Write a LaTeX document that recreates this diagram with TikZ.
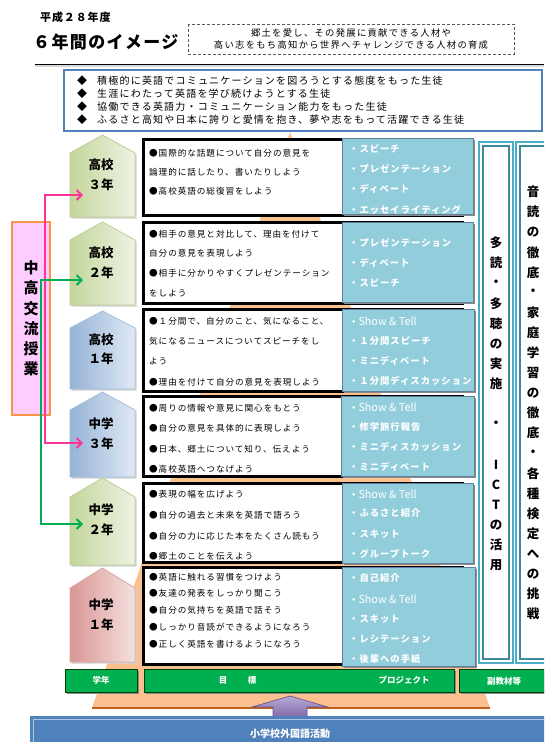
\documentclass[tikz,border=0pt]{standalone}
\usepackage{fontspec}
\setmainfont{Noto Sans CJK JP}
\newfontfamily\jpgoal[LetterSpace=11]{Noto Sans CJK JP}
\newfontfamily\jpproj[LetterSpace=11]{Noto Sans CJK JP}
\newfontfamily\jptop[LetterSpace=12]{Noto Sans CJK JP}
\newfontfamily\jphead[LetterSpace=14]{Noto Sans CJK JP}
\newfontfamily\jptitle[LetterSpace=8]{Noto Sans CJK JP}
\usetikzlibrary{arrows.meta}
\definecolor{frameblue}{HTML}{4F81BD}
\definecolor{projblue}{HTML}{92CDDC}
\definecolor{projedge}{HTML}{5F7F9A}
\definecolor{orangefill}{HTML}{FAC090}
\definecolor{orangeedge}{HTML}{C0601A}
\definecolor{colteal}{HTML}{4BACC6}
\definecolor{hotpink}{HTML}{FF3399}
\definecolor{arrgreen}{HTML}{00B050}
\definecolor{boxgreen}{HTML}{00B050}
\definecolor{pinkfill}{HTML}{FFCCFF}
\definecolor{pinkedge}{HTML}{F79646}
\definecolor{gdark}{HTML}{C3D69B}
\definecolor{glight}{HTML}{EEF3E2}
\definecolor{gedge}{HTML}{B9CF95}
\definecolor{bdark}{HTML}{95B3D7}
\definecolor{blight}{HTML}{E1E9F4}
\definecolor{bedge}{HTML}{A5BEDC}
\definecolor{rdark}{HTML}{D99694}
\definecolor{rlight}{HTML}{F4E1E0}
\definecolor{redge}{HTML}{D9A9A8}
\definecolor{purpdark}{HTML}{7A62A6}
\definecolor{purplight}{HTML}{B9AAD6}
\newcommand\gradehouse[6]{%
  \fill[black!18, shift={(1.5,1.5)}] (70,#3) -- (70,#2) -- (102.5,#1) -- (135,#2) -- (135,#3) -- cycle;
  \path[draw=#6, line width=0.8pt, left color=#4, right color=#5]
    (70,#3) -- (70,#2) -- (102.5,#1) -- (135,#2) -- (135,#3) -- cycle;}
\newcommand\dcol[4]{%
  \draw[colteal, line width=1.2pt, fill=white] (#1,#2) rectangle (#3,#4);
  \draw[colteal!80!black, line width=1.5pt, fill=white] ({#1+3.8},{#2+3.8}) rectangle ({#3-3.8},{#4-3.8});}
\newcommand\projbg[4]{%
  \fill[black!45] ({#1+1.5},{#2+1.5}) rectangle ({#3+1.5},{#4+1.5});
  \draw[projbox] (#1,#2) rectangle (#3,#4);}
\newcommand\showtell{{\normalfont\fontsize{10.8}{12}\selectfont Show \& Tell}}
\begin{document}
\begin{tikzpicture}[x=1pt,y=-1pt,
  goal/.style={anchor=west, inner sep=0pt, font=\jpgoal\fontsize{8.6}{10}\selectfont},
  proj/.style={anchor=west, inner sep=0pt, text=white, font=\jpproj\bfseries\fontsize{9.3}{11}\selectfont},
  goalbox/.style={draw=black, line width=3pt, fill=white},
  projbox/.style={draw=projedge, line width=0.9pt, fill=projblue},
  grade/.style={inner sep=0pt, font=\bfseries\fontsize{12.5}{14}\selectfont},
  coltext/.style={inner sep=0pt, font=\bfseries\fontsize{12.5}{14}\selectfont},
  topline/.style={anchor=west, inner sep=0pt, font=\jptop\fontsize{10}{12}\selectfont},
  greenbox/.style={draw=black!75!green, line width=1pt, fill=boxgreen},
  greentext/.style={inner sep=0pt, text=white, font=\bfseries\fontsize{8.5}{10}\selectfont},
  link/.style={line width=2pt, {Straight Barb[length=5pt,width=10pt]}-{Straight Barb[length=5pt,width=10pt]}}]
\useasboundingbox (0,0) rectangle (544,742);
\clip (0,0) rectangle (544,742);
% ---------- header
\node[anchor=west, inner sep=0pt, font=\jptitle\bfseries\fontsize{11}{12}\selectfont] (year) at (40,17) {平成２８年度};
\node[anchor=west, inner sep=0pt, font=\jptitle\bfseries\fontsize{17}{19}\selectfont] (title) at (33,42) {６年間のイメージ};
\draw[black!65, line width=1pt, dash pattern=on 3pt off 2pt] (188,24) rectangle (514,54);
\node[inner sep=0pt, font=\jphead\fontsize{9.3}{11}\selectfont] (aim1) at (351,33) {郷土を愛し、その発展に貢献できる人材や};
\node[inner sep=0pt, font=\jphead\fontsize{9.3}{11}\selectfont] (aim2) at (351,45) {高い志をもち高知から世界へチャレンジできる人材の育成};
\draw[black!15, line width=2pt] (35,66) -- (544,66);
\draw[black, line width=0.9pt] (35,64) -- (544,64);
% ---------- orange background triangle
\fill[orangefill] (290,132) -- (92,708) -- (490,708) -- cycle;
\draw[orangeedge, line width=2pt] (92,708) -- (490,708);
% ---------- top goals box
\draw[frameblue, line width=2.5pt, fill=white] (64,70) rectangle (542,131);
\foreach \t/\y [count=\i] in {積極的に英語でコミュニケーションを図ろうとする態度をもった生徒/81,
  生涯にわたって英語を学び続けようとする生徒/94,
  協働できる英語力・コミュニケーション能力をもった生徒/107,
  ふるさと高知や日本に誇りと愛情を抱き、夢や志をもって活躍できる生徒/120}{
  \node[inner sep=0pt, font=\fontsize{10}{12}\selectfont] (dia\i) at (82,\y) {◆};
  \node[topline] (top\i) at (97,\y) {\t};
}
% ---------- grade houses
\gradehouse{135}{153}{217}{gdark}{glight}{gedge}
\gradehouse{222}{240}{305}{gdark}{glight}{gedge}
\gradehouse{311}{328}{389}{bdark}{blight}{bedge}
\gradehouse{392}{410}{477}{bdark}{blight}{bedge}
\gradehouse{478}{497}{565}{gdark}{glight}{gedge}
\gradehouse{568}{588}{662}{rdark}{rlight}{redge}
\node[grade] (h1a) at (101,165) {高校}; \node[grade] (h1b) at (101,185) {３年};
\node[grade] (h2a) at (101,253) {高校}; \node[grade] (h2b) at (101,273) {２年};
\node[grade] (h3a) at (101,340) {高校}; \node[grade] (h3b) at (101,359) {１年};
\node[grade] (h4a) at (101,424) {中学}; \node[grade] (h4b) at (101,444) {３年};
\node[grade] (h5a) at (101,510) {中学}; \node[grade] (h5b) at (101,530) {２年};
\node[grade] (h6a) at (101,605) {中学}; \node[grade] (h6b) at (101,625) {１年};
% ---------- goal boxes
\draw[goalbox] (143.5,139.5) rectangle (462,215);
\draw[goalbox] (143.5,222.5) rectangle (462,303);
\draw[goalbox] (143.5,309.5) rectangle (462,391);
\draw[goalbox] (143.5,396.5) rectangle (462,476);
\draw[goalbox] (143.5,483.5) rectangle (462,562);
\draw[goalbox] (143.5,567.5) rectangle (462,664);
\foreach \t/\y [count=\i] in {●国際的な話題について自分の意見を/153, 論理的に話したり、書いたりしよう/172, ●高校英語の総復習をしよう/191}
  \node[goal] (ga\i) at (149,\y) {\t};
\foreach \t/\y [count=\i] in {●相手の意見と対比して、理由を付けて/234, 自分の意見を表現しよう/253, ●相手に分かりやすくプレゼンテーション/273, をしよう/293}
  \node[goal] (gb\i) at (149,\y) {\t};
\foreach \t/\y [count=\i] in {●１分間で、自分のこと、気になること、/321, 気になるニュースについてスピーチをし/341, よう/361, ●理由を付けて自分の意見を表現しよう/382}
  \node[goal] (gc\i) at (149,\y) {\t};
\foreach \t/\y [count=\i] in {●周りの情報や意見に関心をもとう/408, ●自分の意見を具体的に表現しよう/428, ●日本、郷土について知り、伝えよう/449, ●高校英語へつなげよう/469}
  \node[goal] (gd\i) at (149,\y) {\t};
\foreach \t/\y [count=\i] in {●表現の幅を広げよう/494, ●自分の過去と未来を英語で語ろう/515, ●自分の力に応じた本をたくさん読もう/536, ●郷土のことを伝えよう/556}
  \node[goal] (ge\i) at (149,\y) {\t};
\foreach \t/\y [count=\i] in {●英語に触れる習慣をつけよう/577, ●友達の発表をしっかり聞こう/593, ●自分の気持ちを英語で話そう/610, ●しっかり音読ができるようになろう/627, ●正しく英語を書けるようになろう/644}
  \node[goal] (gf\i) at (149,\y) {\t};
% ---------- project boxes
\projbg{342}{138}{473}{214}
\projbg{342}{222}{473}{302}
\projbg{342}{309}{474}{391}
\projbg{341}{396}{474}{476}
\projbg{342}{483}{473}{563}
\projbg{342}{567}{475}{666}
\foreach \t/\y [count=\i] in {・スピーチ/149, ・プレゼンテーション/169, ・ディベート/189, ・エッセイライティング/210}
  \node[proj] (pa\i) at (349,\y) {\t};
\foreach \t/\y [count=\i] in {・プレゼンテーション/243, ・ディベート/263, ・スピーチ/283}
  \node[proj] (pb\i) at (349,\y) {\t};
\foreach \t/\y [count=\i] in {・\showtell/321, ・１分間スピーチ/341, ・ミニディベート/361, ・１分間ディスカッション/381}
  \node[proj] (pc\i) at (349,\y) {\t};
\foreach \t/\y [count=\i] in {・\showtell/407, ・修学旅行報告/427, ・ミニディスカッション/447, ・ミニディベート/467}
  \node[proj] (pd\i) at (349,\y) {\t};
\foreach \t/\y [count=\i] in {・\showtell/494, ・ふるさと紹介/513, ・スキット/534, ・グループトーク/554}
  \node[proj] (pe\i) at (349,\y) {\t};
\foreach \t/\y [count=\i] in {・自己紹介/578, ・\showtell/599, ・スキット/619, ・レシテーション/639, ・後輩への手紙/659}
  \node[proj] (pf\i) at (349,\y) {\t};
% ---------- right columns
\dcol{479}{142}{513}{663}
\dcol{516}{142}{554}{663}
\foreach \c [count=\i] in {多,読,・,多,聴,の,実,施,{},・,{},I,C,T,の,活,用}
  \node[coltext] (ca\i) at (496,{243+20.13*(\i-1)}) {\c};
\foreach \c [count=\i] in {音,読,の,徹,底,・,家,庭,学,習,の,徹,底,・,各,種,検,定,へ,の,挑,戦}
  \node[coltext] (cb\i) at (533,{192+20.1*(\i-1)}) {\c};
% ---------- exchange box and arrows
\draw[pinkedge, line width=1.5pt, fill=pinkfill] (12,222) rectangle (50,415);
\foreach \c [count=\i] in {中,高,交,流,授,業}
  \node[inner sep=0pt, font=\bfseries\fontsize{15}{17}\selectfont] (ex\i) at (31,{268+20.2*(\i-1)}) {\c};
\coordinate (t1) at (83,195);
\coordinate (t4) at (83,443);
\coordinate (t2) at (83,280);
\coordinate (t5) at (83,524);
\draw[link, hotpink] (t1) -- (45,195) -- (45,443) -- (t4);
\draw[link, arrgreen] (t2) -- (41,280) -- (41,524) -- (t5);
% ---------- bottom labels
\fill[black!45] (67,671) rectangle (139,694);
\draw[greenbox] (65,669) rectangle (137,692);
\fill[black!45] (146,671) rectangle (456,694);
\draw[greenbox] (144,669) rectangle (454,692);
\fill[black!45] (461,671) rectangle (556,694);
\draw[greenbox] (459,669) rectangle (554,692);
\node[greentext] (lgrade) at (101,680.5) {学年};
\node[greentext] (lgoal1) at (223,680.5) {目};
\node[greentext] (lgoal2) at (252,680.5) {標};
\node[greentext] (lproj) at (404,680.5) {プロジェクト};
\node[greentext] (lmat) at (504,681) {副教材等};
% ---------- purple arrow and elementary box
\path[top color=purplight, bottom color=purpdark, draw=purpdark!80!black, line width=0.6pt]
  (273,720) -- (273,707) -- (252,707) -- (290,696) -- (328,707) -- (307,707) -- (307,720) -- cycle;
\fill[frameblue] (30,716) rectangle (550,745);
\draw[white!55!frameblue, line width=1.2pt] (33.5,745) -- (33.5,719.5) -- (550,719.5);
\node[inner sep=0pt, text=white, font=\bfseries\fontsize{10}{12}\selectfont] (elem) at (290,734) {小学校外国語活動};
\end{tikzpicture}
\end{document}
